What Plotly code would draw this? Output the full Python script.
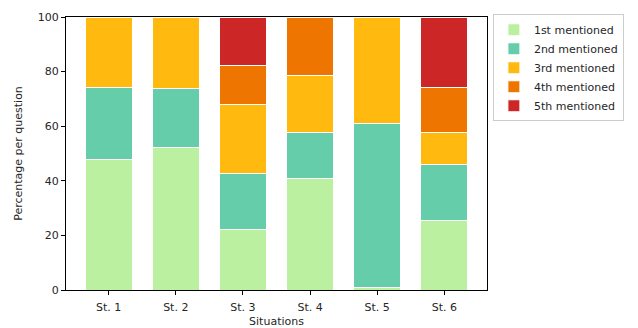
import plotly.graph_objects as go

categories = ["St. 1", "St. 2", "St. 3", "St. 4", "St. 5", "St. 6"]
series_names = ["1st mentioned", "2nd mentioned", "3rd mentioned", "4th mentioned", "5th mentioned"]
first = [47.9, 52.1, 22.2, 41.0, 1.1, 25.5]
second = [26.3, 21.7, 20.3, 16.6, 59.8, 20.3]
third = [25.8, 26.2, 25.6, 20.8, 39.1, 12.0]
fourth = [0.0, 0.0, 14.3, 21.6, 0.0, 16.5]
fifth = [0.0, 0.0, 17.6, 0.0, 0.0, 25.7]
colors = ["#bbf0a0", "#66cdaa", "#ffb90f", "#ee7600", "#cd2626"]
y_ticks = [0, 20, 40, 60, 80, 100]

fig = go.Figure()
for name, vals, col in zip(series_names, [first, second, third, fourth, fifth], colors):
    fig.add_trace(go.Bar(
        x=list(range(len(categories))), y=vals, name=name,
        marker=dict(color=col, line=dict(color="white", width=1)),
        width=0.7,
    ))

fig.update_layout(
    barmode="stack",
    width=638, height=328,
    margin=dict(l=66, r=151, t=17, b=38, autoexpand=False),
    paper_bgcolor="white", plot_bgcolor="white",
    font=dict(family="DejaVu Sans", size=11, color="#262626"),
    showlegend=True,
    legend=dict(
        x=1.014, y=1.01, xanchor="left", yanchor="top",
        traceorder="normal",
        bordercolor="#cccccc", borderwidth=1,
        font=dict(size=11),
        itemwidth=30, tracegroupgap=0,
    ),
)
fig.update_xaxes(
    range=[-0.635, 5.635],
    tickmode="array", tickvals=list(range(len(categories))), ticktext=categories,
    showline=True, linecolor="black", linewidth=1, mirror=True,
    ticks="outside", ticklen=4, tickcolor="black",
    ticklabelstandoff=3,
    showgrid=False, zeroline=False, automargin=False,
    title=dict(text="Situations", standoff=4, font=dict(size=11)),
)
fig.update_yaxes(
    range=[0, 100],
    tickvals=y_ticks,
    showline=True, linecolor="black", linewidth=1, mirror=True,
    ticks="outside", ticklen=4, tickcolor="black",
    showgrid=False, zeroline=False, automargin=False,
    title=dict(text="Percentage per question", standoff=12, font=dict(size=11)),
)

fig.write_html("out.html", post_script="document.body.style.margin='0px';",
               config={"displayModeBar": False})
